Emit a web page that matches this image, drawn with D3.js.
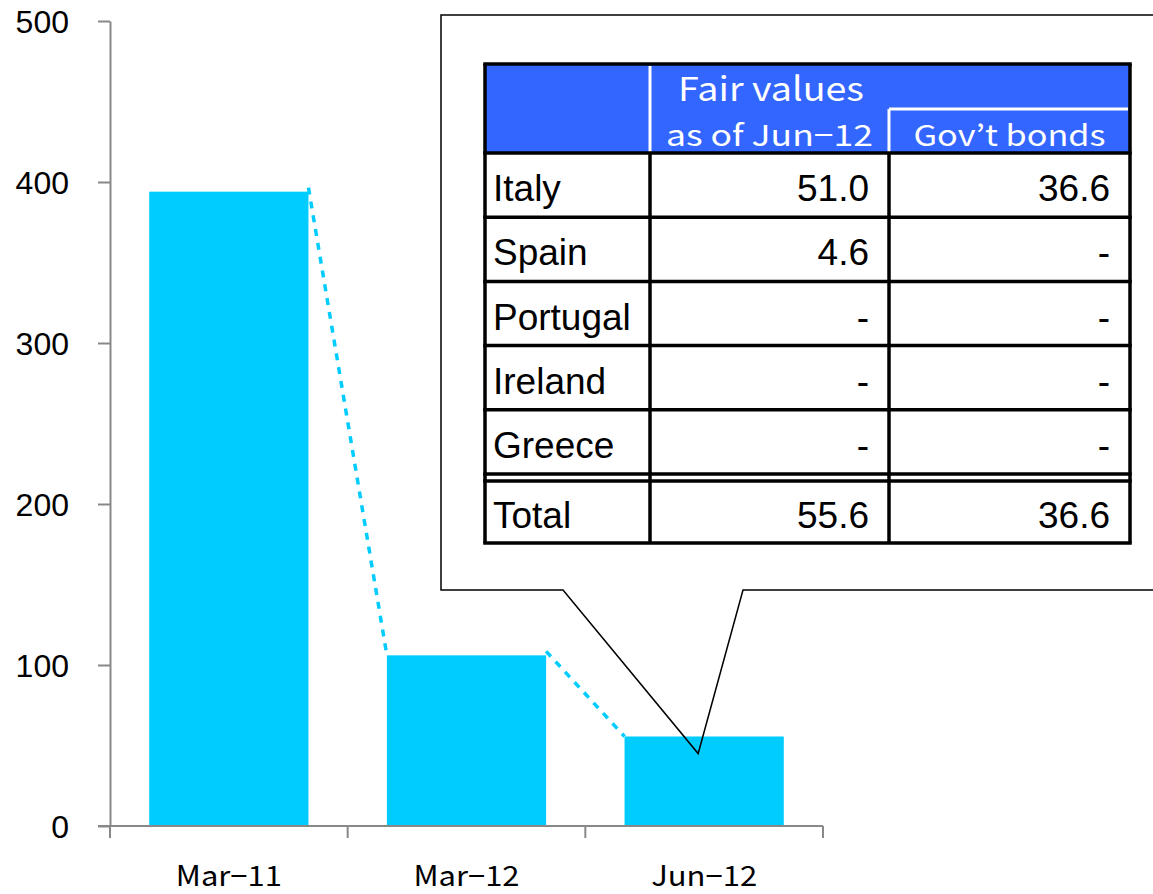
<!DOCTYPE html>
<html>
<head>
<meta charset="utf-8">
<script src="https://cdn.jsdelivr.net/npm/d3@7"></script>
<style>
  body { margin: 0; background: #fff; }
  svg { display: block; }
</style>
</head>
<body>
<div id="chart"></div>
<script>
// データ
var categories = ['Mar-11', 'Mar-12', 'Jun-12']
var values = [394, 106, 55.6]
var yTicks = [0, 100, 200, 300, 400, 500]

var countries = ['Italy', 'Spain', 'Portugal', 'Ireland', 'Greece']
var fairValues = ['51.0', '4.6', '-', '-', '-']
var govBonds = ['36.6', '-', '-', '-', '-']
var totalRow = ['Total', '55.6', '36.6']
var headerMain = 'Fair values'
var headerSub = ['as of Jun-12', 'Gov\u2019t bonds']
var calloutValue = 45

var W = 1153
var H = 894
var paper = d3.select('#chart').append('svg')
  .attr('width', W)
  .attr('height', H)

var x = d3.scaleBand().domain(categories).range([110, 823]).paddingInner(0.33).paddingOuter(0.165)
var y = d3.scaleLinear().domain([0, 500]).range([826, 21])

// 棒
paper.append('g').selectAll('rect')
  .data(values)
  .enter()
  .append('rect')
  .attr('x', function (d, i) { return x(categories[i]) })
  .attr('y', function (d) { return y(d) })
  .attr('width', x.bandwidth())
  .attr('height', function (d) { return y(0) - y(d) })
  .attr('fill', '#00ccff')

// 系列線 (点線)
var links = d3.pairs(values.map(function (d, i) { return {c: categories[i], v: d} }))
paper.append('g').selectAll('line')
  .data(links)
  .enter()
  .append('line')
  .attr('x1', function (d) { return x(d[0].c) + x.bandwidth() })
  .attr('y1', function (d) { return y(d[0].v) - 4 })
  .attr('x2', function (d) { return x(d[1].c) })
  .attr('y2', function (d) { return y(d[1].v) })
  .attr('stroke', '#00ccff')
  .attr('stroke-width', 3.5)
  .attr('stroke-dasharray', '7,7')

// 軸
var yAxis = d3.axisLeft(y).tickValues(yTicks).tickSize(12).tickPadding(29).tickSizeOuter(0)
var gy = paper.append('g').attr('transform', 'translate(110,0)').call(yAxis)
gy.selectAll('text')
  .attr('font-family', 'Liberation Sans, Arial, sans-serif')
  .attr('font-size', 32)
  .attr('fill', '#000')
  .attr('dy', '0.36em')

var xEdges = [110].concat(categories.map(function (c) { return x(c) + x.bandwidth() + x.step() * 0.165 }))
var gx = paper.append('g')
gx.append('line')
  .attr('x1', 98).attr('x2', 823)
  .attr('y1', y(0)).attr('y2', y(0))
gx.selectAll('.tk')
  .data(xEdges)
  .enter()
  .append('line')
  .attr('class', 'tk')
  .attr('x1', function (d) { return d }).attr('x2', function (d) { return d })
  .attr('y1', y(0)).attr('y2', y(0) + 12)
gx.selectAll('line').attr('stroke', '#888').attr('stroke-width', 2)
gy.selectAll('line, path').attr('stroke', '#888').attr('stroke-width', 2)

gx.selectAll('text')
  .data(categories)
  .enter()
  .append('text')
  .attr('x', function (d) { return x(d) + x.bandwidth() / 2 })
  .attr('y', 886)
  .attr('text-anchor', 'middle')
  .attr('font-family', 'Noto Sans CJK JP, sans-serif')
  .attr('font-size', 28)
  .attr('textLength', 106)
  .attr('lengthAdjust', 'spacingAndGlyphs')
  .text(function (d) { return d.replace('-', '\u2212') })

// 吹き出し
var tipX = x('Jun-12') + x.bandwidth() / 2 - 6
var callout = d3.path()
callout.moveTo(1160, 15)
callout.lineTo(441, 15)
callout.lineTo(441, 590)
callout.lineTo(563, 590)
callout.lineTo(tipX, y(calloutValue))
callout.lineTo(743, 590)
callout.lineTo(1160, 590)
paper.append('path')
  .attr('d', callout.toString())
  .attr('fill', 'none')
  .attr('stroke', '#000')
  .attr('stroke-width', 1.5)

// 表
var tbl = paper.append('g')
var cols = [485, 650, 889, 1130]
var headTop = 64
var headBot = 153
var rowY = d3.scaleBand().domain(countries).range([headBot, 474])
var totTop = 481
var totBot = 543

tbl.append('rect')
  .attr('x', cols[0]).attr('y', headTop)
  .attr('width', cols[3] - cols[0]).attr('height', headBot - headTop)
  .attr('fill', '#3366ff')

// ヘッダー内の白線
tbl.append('line').attr('x1', cols[1]).attr('x2', cols[1]).attr('y1', headTop + 2).attr('y2', headBot)
  .attr('stroke', '#fff').attr('stroke-width', 3)
tbl.append('line').attr('x1', cols[2]).attr('x2', cols[3] - 2).attr('y1', 109).attr('y2', 109)
  .attr('stroke', '#fff').attr('stroke-width', 3)
tbl.append('line').attr('x1', cols[2]).attr('x2', cols[2]).attr('y1', 109).attr('y2', headBot)
  .attr('stroke', '#fff').attr('stroke-width', 3)

var headFont = 'Noto Sans CJK JP, sans-serif'
tbl.append('text')
  .attr('x', 771).attr('y', 101)
  .attr('text-anchor', 'middle')
  .attr('font-family', headFont).attr('font-size', 33)
  .attr('textLength', 186).attr('lengthAdjust', 'spacingAndGlyphs')
  .attr('fill', '#fff')
  .text(headerMain)
tbl.selectAll('.sub')
  .data(headerSub)
  .enter()
  .append('text')
  .attr('class', 'sub')
  .attr('x', function (d, i) { return (cols[i + 1] + cols[i + 2]) / 2 })
  .attr('y', 146)
  .attr('text-anchor', 'middle')
  .attr('font-family', headFont).attr('font-size', 29)
  .attr('textLength', function (d, i) { return i === 0 ? 207 : 192 })
  .attr('lengthAdjust', 'spacingAndGlyphs')
  .attr('fill', '#fff')
  .text(function (d) { return d.replace('-', '\u2212') })

// 罫線
var lineW = 3.5
var hLines = [headTop, headBot].concat(countries.map(function (c) { return rowY(c) + rowY.bandwidth() })).concat([totTop, totBot])
tbl.selectAll('.hl')
  .data(hLines)
  .enter()
  .append('line')
  .attr('class', 'hl')
  .attr('x1', cols[0] - lineW / 2).attr('x2', cols[3] + lineW / 2)
  .attr('y1', function (d) { return d }).attr('y2', function (d) { return d })
tbl.append('line').attr('x1', cols[0]).attr('x2', cols[0]).attr('y1', headTop).attr('y2', totBot)
tbl.append('line').attr('x1', cols[3]).attr('x2', cols[3]).attr('y1', headTop).attr('y2', totBot)
cols.slice(1, 3).forEach(function (cx) {
  tbl.append('line').attr('x1', cx).attr('x2', cx).attr('y1', headBot).attr('y2', totBot)
})
tbl.selectAll('line').filter(function () { return d3.select(this).attr('stroke') !== '#fff' })
  .attr('stroke', '#000').attr('stroke-width', lineW)

// 表の文字
var bodyFont = 'Liberation Sans, Arial, sans-serif'
var rows = countries.map(function (c, i) { return [c, fairValues[i], govBonds[i]] })
rows.forEach(function (r, i) {
  var cy = rowY(countries[i]) + rowY.bandwidth() / 2
  drawRow(r, cy)
})
drawRow(totalRow, (totTop + totBot) / 2)

function drawRow (r, cy) {
  tbl.append('text')
    .attr('x', cols[0] + 8).attr('y', cy + 16)
    .attr('font-family', bodyFont).attr('font-size', 37)
    .text(r[0])
  tbl.append('text')
    .attr('x', cols[2] - 20).attr('y', cy + 16)
    .attr('text-anchor', 'end')
    .attr('font-family', bodyFont).attr('font-size', 37)
    .text(r[1])
  tbl.append('text')
    .attr('x', cols[3] - 20).attr('y', cy + 16)
    .attr('text-anchor', 'end')
    .attr('font-family', bodyFont).attr('font-size', 37)
    .text(r[2])
}
</script>
</body>
</html>
